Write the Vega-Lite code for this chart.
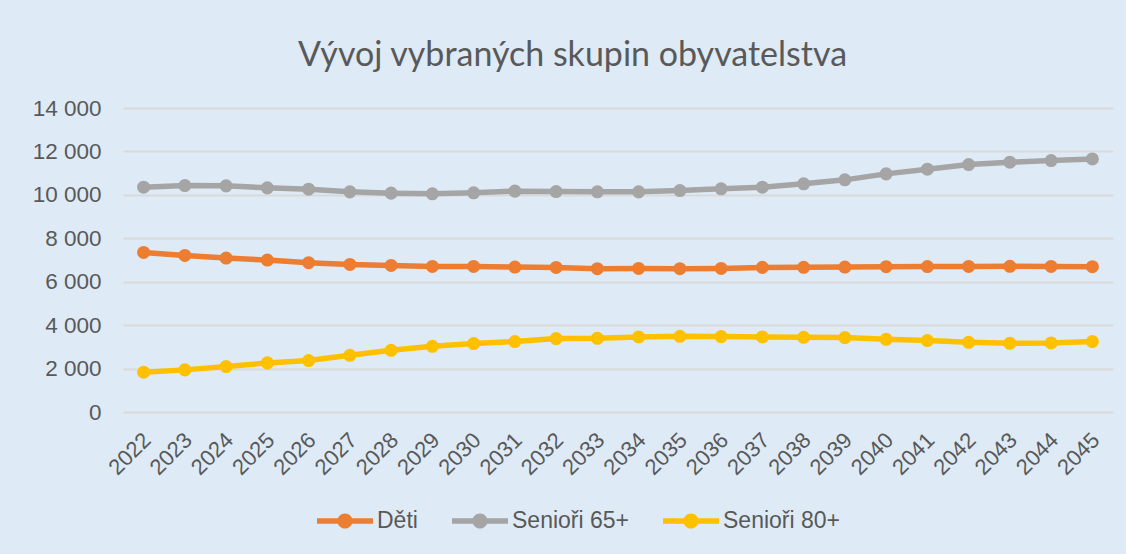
{
  "$schema": "https://vega.github.io/schema/vega-lite/v6.json",
  "autosize": {"type": "none"},
  "padding": {"left": 123, "top": 108, "right": 13, "bottom": 142},
  "width": 990,
  "height": 304,
  "background": "#DEEBF7",
  "title": {
    "text": "Vývoj vybraných skupin obyvatelstva",
    "font": "Lato",
    "fontWeight": 400,
    "fontSize": 34,
    "color": "#595959",
    "anchor": "middle",
    "frame": "bounds",
    "offset": 24
  },
  "data": {
    "values": [
      {"rok": "2022", "skupina": "Děti", "pocet": 7348},
      {"rok": "2023", "skupina": "Děti", "pocet": 7210},
      {"rok": "2024", "skupina": "Děti", "pocet": 7090},
      {"rok": "2025", "skupina": "Děti", "pocet": 6998},
      {"rok": "2026", "skupina": "Děti", "pocet": 6874},
      {"rok": "2027", "skupina": "Děti", "pocet": 6796},
      {"rok": "2028", "skupina": "Děti", "pocet": 6750},
      {"rok": "2029", "skupina": "Děti", "pocet": 6704},
      {"rok": "2030", "skupina": "Děti", "pocet": 6704},
      {"rok": "2031", "skupina": "Děti", "pocet": 6674},
      {"rok": "2032", "skupina": "Děti", "pocet": 6658},
      {"rok": "2033", "skupina": "Děti", "pocet": 6600},
      {"rok": "2034", "skupina": "Děti", "pocet": 6612},
      {"rok": "2035", "skupina": "Děti", "pocet": 6598},
      {"rok": "2036", "skupina": "Děti", "pocet": 6612},
      {"rok": "2037", "skupina": "Děti", "pocet": 6660},
      {"rok": "2038", "skupina": "Děti", "pocet": 6665},
      {"rok": "2039", "skupina": "Děti", "pocet": 6674},
      {"rok": "2040", "skupina": "Děti", "pocet": 6690},
      {"rok": "2041", "skupina": "Děti", "pocet": 6700},
      {"rok": "2042", "skupina": "Děti", "pocet": 6704},
      {"rok": "2043", "skupina": "Děti", "pocet": 6710},
      {"rok": "2044", "skupina": "Děti", "pocet": 6704},
      {"rok": "2045", "skupina": "Děti", "pocet": 6690},
      {"rok": "2022", "skupina": "Senioři 65+", "pocet": 10355},
      {"rok": "2023", "skupina": "Senioři 65+", "pocet": 10428},
      {"rok": "2024", "skupina": "Senioři 65+", "pocet": 10414},
      {"rok": "2025", "skupina": "Senioři 65+", "pocet": 10322},
      {"rok": "2026", "skupina": "Senioři 65+", "pocet": 10263},
      {"rok": "2027", "skupina": "Senioři 65+", "pocet": 10138},
      {"rok": "2028", "skupina": "Senioři 65+", "pocet": 10079},
      {"rok": "2029", "skupina": "Senioři 65+", "pocet": 10047},
      {"rok": "2030", "skupina": "Senioři 65+", "pocet": 10093},
      {"rok": "2031", "skupina": "Senioři 65+", "pocet": 10171},
      {"rok": "2032", "skupina": "Senioři 65+", "pocet": 10153},
      {"rok": "2033", "skupina": "Senioři 65+", "pocet": 10140},
      {"rok": "2034", "skupina": "Senioři 65+", "pocet": 10138},
      {"rok": "2035", "skupina": "Senioři 65+", "pocet": 10200},
      {"rok": "2036", "skupina": "Senioři 65+", "pocet": 10277},
      {"rok": "2037", "skupina": "Senioři 65+", "pocet": 10355},
      {"rok": "2038", "skupina": "Senioři 65+", "pocet": 10507},
      {"rok": "2039", "skupina": "Senioři 65+", "pocet": 10691},
      {"rok": "2040", "skupina": "Senioři 65+", "pocet": 10967},
      {"rok": "2041", "skupina": "Senioři 65+", "pocet": 11182},
      {"rok": "2042", "skupina": "Senioři 65+", "pocet": 11395},
      {"rok": "2043", "skupina": "Senioři 65+", "pocet": 11504},
      {"rok": "2044", "skupina": "Senioři 65+", "pocet": 11578},
      {"rok": "2045", "skupina": "Senioři 65+", "pocet": 11656},
      {"rok": "2022", "skupina": "Senioři 80+", "pocet": 1830},
      {"rok": "2023", "skupina": "Senioři 80+", "pocet": 1940},
      {"rok": "2024", "skupina": "Senioři 80+", "pocet": 2092},
      {"rok": "2025", "skupina": "Senioři 80+", "pocet": 2262},
      {"rok": "2026", "skupina": "Senioři 80+", "pocet": 2368},
      {"rok": "2027", "skupina": "Senioři 80+", "pocet": 2612},
      {"rok": "2028", "skupina": "Senioři 80+", "pocet": 2842},
      {"rok": "2029", "skupina": "Senioři 80+", "pocet": 3026},
      {"rok": "2030", "skupina": "Senioři 80+", "pocet": 3150},
      {"rok": "2031", "skupina": "Senioři 80+", "pocet": 3242},
      {"rok": "2032", "skupina": "Senioři 80+", "pocet": 3380},
      {"rok": "2033", "skupina": "Senioři 80+", "pocet": 3395},
      {"rok": "2034", "skupina": "Senioři 80+", "pocet": 3457},
      {"rok": "2035", "skupina": "Senioři 80+", "pocet": 3487},
      {"rok": "2036", "skupina": "Senioři 80+", "pocet": 3472},
      {"rok": "2037", "skupina": "Senioři 80+", "pocet": 3457},
      {"rok": "2038", "skupina": "Senioři 80+", "pocet": 3441},
      {"rok": "2039", "skupina": "Senioři 80+", "pocet": 3426},
      {"rok": "2040", "skupina": "Senioři 80+", "pocet": 3349},
      {"rok": "2041", "skupina": "Senioři 80+", "pocet": 3288},
      {"rok": "2042", "skupina": "Senioři 80+", "pocet": 3211},
      {"rok": "2043", "skupina": "Senioři 80+", "pocet": 3165},
      {"rok": "2044", "skupina": "Senioři 80+", "pocet": 3180},
      {"rok": "2045", "skupina": "Senioři 80+", "pocet": 3242}
    ]
  },
  "encoding": {
    "x": {
      "field": "rok",
      "type": "ordinal",
      "scale": {"type": "point", "padding": 0.5},
      "axis": {
        "title": null,
        "domain": false,
        "ticks": false,
        "grid": false,
        "labelAngle": -45,
        "labelAlign": "right",
        "labelBaseline": "top",
        "labelPadding": 17,
        "labelOffset": -4,
        "labelFont": "Liberation Sans",
        "labelFontSize": 22,
        "labelColor": "#595959"
      }
    },
    "y": {
      "field": "pocet",
      "type": "quantitative",
      "scale": {"domain": [0, 14000], "nice": false},
      "axis": {
        "title": null,
        "domain": false,
        "ticks": false,
        "values": [0, 2000, 4000, 6000, 8000, 10000, 12000, 14000],
        "labelExpr": "replace(format(datum.value, ','), ',', ' ')",
        "labelFont": "Liberation Sans",
        "labelFontSize": 22.5,
        "labelColor": "#595959",
        "labelPadding": 22,
        "grid": true,
        "gridColor": "#D9D9D9",
        "gridWidth": 1.8
      }
    },
    "color": {
      "field": "skupina",
      "type": "nominal",
      "scale": {
        "domain": ["Děti", "Senioři 65+", "Senioři 80+"],
        "range": ["#ED7D31", "#A5A5A5", "#FFC000"]
      },
      "legend": {
        "title": null,
        "orient": "none",
        "legendX": 194,
        "legendY": 385,
        "direction": "horizontal",
        "padding": 0,
        "symbolType": "M-1,-0.1H1V0.1H-1Z M-0.27,0A0.27,0.27,0,1,1,0.27,0A0.27,0.27,0,1,1,-0.27,0Z",
        "symbolSize": 3136,
        "symbolStrokeWidth": 0,
        "labelFont": "Liberation Sans",
        "labelFontSize": 23,
        "labelColor": "#595959",
        "labelOffset": 4,
        "columnPadding": 34,
        "encode": {
          "symbols": {
            "update": {
              "fill": {"scale": "color", "field": "value"},
              "fillOpacity": {"value": 1},
              "strokeWidth": {"value": 0}
            }
          }
        }
      }
    }
  },
  "layer": [
    {"mark": {"type": "line", "strokeWidth": 5.5}},
    {"mark": {"type": "point", "filled": true, "opacity": 1, "size": 170, "shape": "circle"}}
  ],
  "config": {
    "view": {"stroke": null}
  }
}
